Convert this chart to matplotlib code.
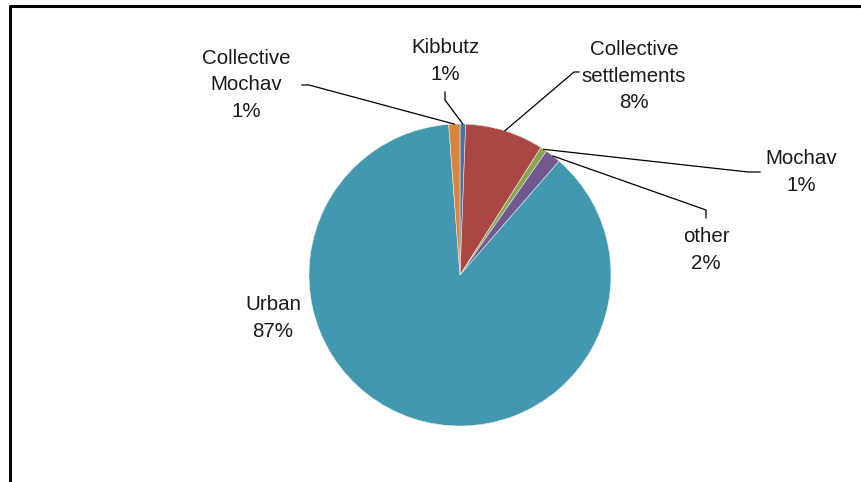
import matplotlib.pyplot as plt
import numpy as np
from matplotlib.lines import Line2D

plt.rcParams['font.family'] = ['Liberation Sans', 'DejaVu Sans']

# settlement type shares (percent)
labels = ['Kibbutz', 'Collective\nsettlements', 'Mochav', 'other', 'Urban', 'Collective\nMochav']
shares = [0.6, 8.4, 0.7, 1.7, 87.4, 1.2]
colors = ['#4572A7', '#AA4643', '#89A54E', '#71588F', '#4198AF', '#DB843D']

W, H = 862, 482
fig = plt.figure(figsize=(W / 100, H / 100), dpi=100)
ax = fig.add_axes([0, 0, 1, 1])

# pie drawn in pixel space (y down), so wedges run clockwise from 12 o'clock
cx, cy, r = 460, 275, 151
ax.pie(shares, colors=colors, startangle=-90, counterclock=True,
       center=(cx, cy), radius=r, frame=True,
       wedgeprops=dict(linewidth=0.4, edgecolor='#e8e8e8'))
ax.set_xlim(0, W)
ax.set_ylim(H, 0)
ax.set_aspect('equal')
ax.axis('off')

# label centre and leader route (elbow, end) for each slice
label_xy = [(445, 61), (634, 76), (801, 172), (706, 250), (273, 318), (246, 85)]
leaders = [
    [(445, 100), (445, 92)],
    [(574, 72), (579, 72)],
    [(748, 172), (760, 172)],
    [(706, 210), (706, 218)],
    None,
    [(309, 85), (302, 85)],
]

cum = np.cumsum([0] + shares)
for i, (lab, val) in enumerate(zip(labels, shares)):
    mid = (cum[i] + val / 2) / 100 * 2 * np.pi
    sx, sy = cx + r * np.sin(mid), cy - r * np.cos(mid)
    if leaders[i] is not None:
        pts = [(sx, sy)] + leaders[i]
        ax.plot([p[0] for p in pts], [p[1] for p in pts], color='black', lw=0.9)
    lx, ly = label_xy[i]
    ax.text(lx, ly, f'{lab}\n{val:.0f}%', ha='center', va='center',
            fontsize=14.8, linespacing=1.52, color='#1a1a1a')

# chart border
fig.add_artist(Line2D([10.5 / W, 10.5 / W, 1.01], [0, 1 - 5.5 / H, 1 - 5.5 / H],
                      transform=fig.transFigure, color='black', lw=2.2))

fig.savefig('out.png', dpi=100)
